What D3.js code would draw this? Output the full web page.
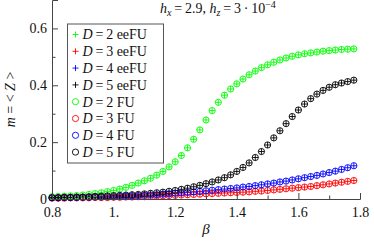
<!DOCTYPE html>
<html>
<head>
<meta charset="utf-8">
<script src="https://cdn.jsdelivr.net/npm/d3@7/dist/d3.min.js"></script>
<style>
  body { margin: 0; background: #fff; }
  svg text { font-family: "Liberation Serif", "DejaVu Serif", serif; }
</style>
</head>
<body>
<div class="chart"></div>
<script>
// beta grid, 0.8 .. 1.78 step 0.02
var betas = [0.80,0.82,0.84,0.86,0.88,0.90,0.92,0.94,0.96,0.98,
             1.00,1.02,1.04,1.06,1.08,1.10,1.12,1.14,1.16,1.18,
             1.20,1.22,1.24,1.26,1.28,1.30,1.32,1.34,1.36,1.38,
             1.40,1.42,1.44,1.46,1.48,1.50,1.52,1.54,1.56,1.58,
             1.60,1.62,1.64,1.66,1.68,1.70,1.72,1.74,1.76,1.78];

var mD2 = [0.008,0.009,0.010,0.011,0.012,0.014,0.016,0.019,0.022,0.026,
           0.030,0.035,0.041,0.048,0.056,0.064,0.073,0.084,0.097,0.113,
           0.131,0.153,0.180,0.210,0.243,0.278,0.311,0.340,0.365,0.387,
           0.405,0.422,0.437,0.450,0.462,0.472,0.481,0.489,0.496,0.502,
           0.507,0.511,0.514,0.517,0.520,0.522,0.524,0.526,0.527,0.528];
var mD3 = [0.003,0.003,0.003,0.004,0.004,0.004,0.004,0.005,0.005,0.005,
           0.006,0.006,0.007,0.007,0.008,0.008,0.009,0.010,0.011,0.012,
           0.013,0.014,0.015,0.016,0.017,0.018,0.019,0.020,0.021,0.022,
           0.023,0.024,0.025,0.027,0.028,0.030,0.032,0.034,0.036,0.038,
           0.040,0.042,0.044,0.047,0.050,0.053,0.056,0.059,0.062,0.065];
var mD4 = [0.004,0.004,0.005,0.005,0.005,0.006,0.006,0.007,0.007,0.008,
           0.008,0.009,0.010,0.011,0.012,0.013,0.014,0.015,0.017,0.018,
           0.020,0.021,0.023,0.025,0.027,0.029,0.031,0.033,0.035,0.037,
           0.039,0.042,0.044,0.047,0.050,0.053,0.056,0.060,0.063,0.067,
           0.071,0.075,0.079,0.083,0.088,0.093,0.098,0.104,0.110,0.117];
var mD5 = [0.005,0.005,0.006,0.006,0.007,0.007,0.008,0.009,0.010,0.011,
           0.012,0.013,0.014,0.015,0.016,0.018,0.020,0.022,0.024,0.027,
           0.030,0.034,0.038,0.043,0.048,0.054,0.060,0.067,0.075,0.085,
           0.097,0.111,0.127,0.146,0.167,0.190,0.215,0.240,0.265,0.290,
           0.313,0.334,0.353,0.369,0.382,0.393,0.402,0.408,0.413,0.418];

var dims = [2, 3, 4, 5];
var colors = ["#00ff00", "#ff0000", "#0000ff", "#000000"];
var xTicks = [0.8, 1.0, 1.2, 1.4, 1.6, 1.8];
var xTickLabels = ["0.8", "1.", "1.2", "1.4", "1.6", "1.8"];
var yTicks = [0, 0.2, 0.4, 0.6];
var yTickLabels = ["0", "0.2", "0.4", "0.6"];

var width = 374, height = 241;
var plotL = 52, plotR = 360, plotT = 0, plotB = 199;

var svg = d3.select('.chart').append('svg').attr('width', width).attr('height', height);

var x = d3.scaleLinear().domain([0.8, 1.8]).range([plotL, plotR]);
var y = d3.scaleLinear().domain([0, 0.7]).range([plotB, plotT]);

// eeFU (plus) and FU (circle) lie on top of each other
var series = [];
[mD2, mD3, mD4, mD5].forEach(function(vals, i){
    series.push({label: "eeFU", d: dims[i], color: colors[i], marker: "plus", values: vals});
});
[mD2, mD3, mD4, mD5].forEach(function(vals, i){
    series.push({label: "FU", d: dims[i], color: colors[i], marker: "circle", values: vals});
});

function drawMarker(g, type, color){
    if(type === "plus"){
        g.append('path').attr('d', 'M-3,0H3M0,-3V3')
         .attr('stroke', color).attr('stroke-width', 0.9).attr('fill', 'none');
    } else {
        g.append('circle').attr('r', 3.1)
         .attr('stroke', color).attr('stroke-width', 0.9).attr('fill', 'none');
    }
}

// points
series.forEach(function(s){
    var pts = svg.append('g').selectAll('g').data(s.values).enter().append('g')
        .attr('transform', function(d, i){ return 'translate(' + x(betas[i]) + ',' + y(d) + ')'; });
    pts.each(function(){ drawMarker(d3.select(this), s.marker, s.color); });
});

// axes, ticks inward
var axisColor = '#444';
svg.append('g').attr('transform', 'translate(0,' + plotB + ')')
    .call(d3.axisBottom(x).tickValues(xTicks).tickSize(-6).tickPadding(8)
        .tickFormat(function(d, i){ return xTickLabels[i]; }));
svg.append('g').attr('transform', 'translate(0,' + plotB + ')')
    .call(d3.axisBottom(x).tickValues([0.9, 1.1, 1.3, 1.5, 1.7]).tickSize(-3.5).tickFormat(''))
    .select('.domain').remove();
svg.append('g').attr('transform', 'translate(' + plotL + ',0)')
    .call(d3.axisLeft(y).tickValues(yTicks).tickSize(-6).tickPadding(5)
        .tickFormat(function(d, i){ return yTickLabels[i]; }));
svg.append('g').attr('transform', 'translate(' + plotL + ',0)')
    .call(d3.axisLeft(y).tickValues([0.1, 0.3, 0.5]).tickSize(-3.5).tickFormat(''))
    .select('.domain').remove();

svg.selectAll('.domain').attr('stroke', axisColor);
svg.selectAll('.tick line').attr('stroke', axisColor);
svg.selectAll('.tick text').attr('font-size', 14).attr('fill', '#111')
    .style('font-family', '"Liberation Serif", serif');

// legend
var legend = svg.append('g');
legend.append('rect').attr('x', 67.5).attr('y', 24).attr('width', 96).attr('height', 139)
    .attr('fill', '#fff').attr('stroke', '#555').attr('stroke-width', 1);
series.forEach(function(s, i){
    var row = legend.append('g').attr('transform', 'translate(75.5,' + (34.5 + i * 16.8) + ')');
    drawMarker(row, s.marker, s.color);
    var t = row.append('text').attr('x', 7).attr('y', 4.8).attr('font-size', 14).attr('fill', '#111');
    t.append('tspan').attr('font-style', 'italic').text('D');
    t.append('tspan').text('\u2009=\u2009' + s.d + ' ' + s.label);
});

// title
var title = svg.append('text').attr('x', 160).attr('y', 13).attr('font-size', 14).attr('fill', '#111');
title.append('tspan').attr('font-style', 'italic').text('h');
title.append('tspan').attr('font-style', 'italic').attr('font-size', 10).attr('dy', 2.5).text('x');
title.append('tspan').attr('dy', -2.5).text('\u2009=\u20092.9, ');
title.append('tspan').attr('font-style', 'italic').text('h');
title.append('tspan').attr('font-style', 'italic').attr('font-size', 10).attr('dy', 2.5).text('z');
title.append('tspan').attr('dy', -2.5).text('\u2009=\u20093\u2009\u00b7\u200910');
title.append('tspan').attr('font-size', 10).attr('dy', -5).text('\u22124');

// axis labels
svg.append('text').attr('x', (plotL + plotR) / 2).attr('y', 234).attr('text-anchor', 'middle')
    .attr('font-size', 15).attr('font-style', 'italic').attr('fill', '#111').text('\u03b2');
var yl = svg.append('text').attr('transform', 'translate(15,' + ((plotT + plotB) / 2) + ') rotate(-90)')
    .attr('text-anchor', 'middle').attr('font-size', 14).attr('fill', '#111');
yl.append('tspan').attr('font-style', 'italic').text('m');
yl.append('tspan').text(' = < ');
yl.append('tspan').attr('font-style', 'italic').text('Z');
yl.append('tspan').text(' >');
</script>
</body>
</html>
